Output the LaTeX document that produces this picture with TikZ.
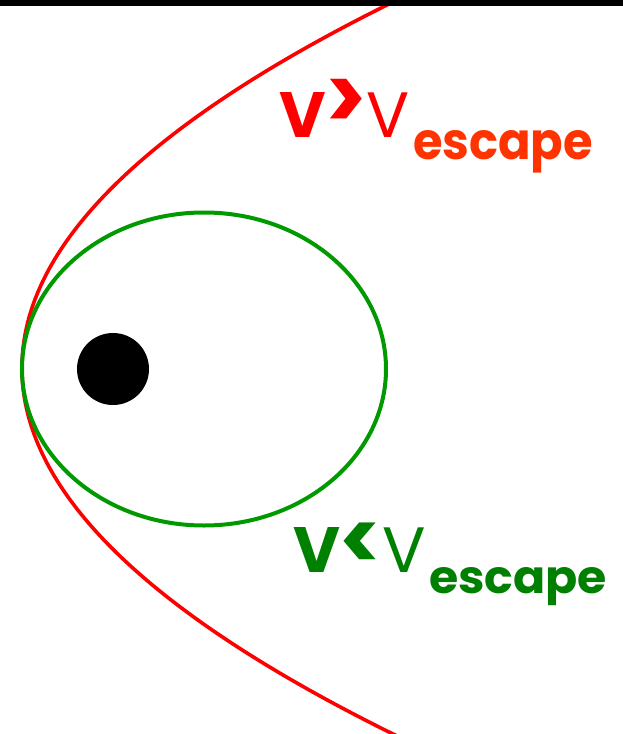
\documentclass[tikz,border=0pt]{standalone}
\usepackage{fontspec}
\setmainfont{Poppins}
\definecolor{orbred}{HTML}{FF0000}
\definecolor{escred}{HTML}{FF3300}
\definecolor{orbgreen}{HTML}{009900}
\definecolor{txtgreen}{HTML}{008000}
\begin{document}
\begin{tikzpicture}[x=1pt,y=-1pt,
  lbl/.style={inner sep=0pt,outer sep=0pt,anchor=base west},
  orbit/.style={line width=3.6pt}]
\useasboundingbox (0,0) rectangle (623,734);
\fill[white] (0,0) rectangle (623,734);
% escape orbit, drawn as a parabola through the vertex (22,368)
\coordinate (ptop) at (405.3,-4);
\coordinate (pbot) at (405.3,740);
\draw[orbit,orbred] (ptop) .. controls (-105.8,244) and (-105.8,492) .. (pbot);
% elliptical orbit
\draw[line width=4pt,orbgreen] (204,369) ellipse[x radius=182,y radius=156.5];
% central body
\node[circle,fill=black,minimum size=72pt,inner sep=0pt] (body) at (113,369) {};
% top bar
\fill[black] (0,0) rectangle (623,6);
% labels
\node[lbl,orbred] (vgt) at (279,137) {\resizebox{131pt}{45pt}{\bfseries V\smash{\raisebox{0.1em}{\scalebox{1.2}[1.4]{>}}}\mdseries V}};
\node[lbl,escred] (esc1) at (413,159) {\resizebox{180pt}{29pt}{\bfseries escape}};
\node[lbl,txtgreen] (vlt) at (293,572) {\resizebox{133pt}{45pt}{\bfseries V\smash{\raisebox{0.02em}{\scalebox{1.2}[1.3]{<}}}\mdseries V}};
\node[lbl,txtgreen] (esc2) at (429,593) {\resizebox{178pt}{26pt}{\bfseries escape}};
\end{tikzpicture}
\end{document}
